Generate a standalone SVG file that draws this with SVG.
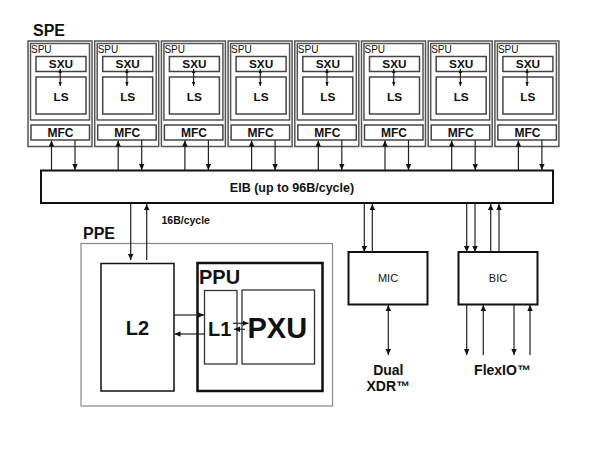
<svg xmlns="http://www.w3.org/2000/svg" width="600" height="449" viewBox="0 0 600 449">
<defs>
<style>
.t{font-family:"Liberation Sans",Arial,sans-serif;fill:#111}
.b{font-weight:bold}
.mid{text-anchor:middle}
.speo{fill:none;stroke:#555;stroke-width:1.5}
.spu{fill:#fff;stroke:#555;stroke-width:1.5}
.sub{fill:#fff;stroke:#444;stroke-width:1.5}
.box{fill:#fff;stroke:#111;stroke-width:2}
.ln{fill:none;stroke:#222;stroke-width:1.2}
.a{marker-end:url(#ah)}
.aa{marker-start:url(#ah);marker-end:url(#ah)}
.sa{marker-start:url(#sh);marker-end:url(#sh)}
</style>
<marker id="ah" viewBox="0 0 6 6" refX="6" refY="3" markerWidth="6" markerHeight="6" markerUnits="userSpaceOnUse" orient="auto-start-reverse"><path d="M0,0.3 L6,3 L0,5.7 z" fill="#111"/></marker>
<marker id="sh" viewBox="0 0 4 4" refX="4" refY="2" markerWidth="4" markerHeight="4" markerUnits="userSpaceOnUse" orient="auto-start-reverse"><path d="M0,0.3 L4,2 L0,3.7 z" fill="#111"/></marker>
<g id="speTpl">
<rect class="speo" x="28" y="41" width="64" height="105.5"/>
<rect class="spu" x="30.5" y="43.5" width="59" height="76.5"/>
<text class="t" x="31" y="52.5" font-size="10">SPU</text>
<rect class="sub" x="36" y="56.5" width="50" height="15"/>
<text class="t b mid" x="61" y="68.3" font-size="11.8">SXU</text>
<rect class="sub" x="36" y="77" width="50" height="37"/>
<text class="t b mid" x="61" y="101" font-size="11.8">LS</text>
<rect class="sub" x="31" y="125" width="58.5" height="15"/>
<text class="t b mid" x="60.5" y="137.3" font-size="12">MFC</text>
</g>
</defs>
<rect width="600" height="449" fill="#fff"/>

<text class="t b" x="33" y="35.5" font-size="16">SPE</text>
<g id="spe1"><use href="#speTpl"/></g>
<g id="spe2" transform="translate(66.7,0)"><use href="#speTpl"/></g>
<g id="spe3" transform="translate(133.4,0)"><use href="#speTpl"/></g>
<g id="spe4" transform="translate(200.1,0)"><use href="#speTpl"/></g>
<g id="spe5" transform="translate(266.8,0)"><use href="#speTpl"/></g>
<g id="spe6" transform="translate(333.5,0)"><use href="#speTpl"/></g>
<g id="spe7" transform="translate(400.2,0)"><use href="#speTpl"/></g>
<g id="spe8" transform="translate(466.9,0)"><use href="#speTpl"/></g>

<g id="eib">
<rect class="box" x="41" y="170.5" width="512" height="32.5"/>
<text class="t b mid" x="292" y="191.5" font-size="12.5">EIB (up to 96B/cycle)</text>
</g>

<g id="ppe">
<rect x="81" y="243.5" width="251.5" height="162.5" fill="none" stroke="#888" stroke-width="1.2"/>
<text class="t b" x="83" y="239" font-size="16">PPE</text>
</g>
<g id="l2">
<rect x="101" y="263.5" width="73" height="127.5" fill="#fff" stroke="#111" stroke-width="1.5"/>
<text class="t b mid" x="137.5" y="335" font-size="20">L2</text>
</g>
<g id="ppu">
<rect x="197.5" y="263" width="125" height="128" fill="#fff" stroke="#111" stroke-width="2.5"/>
<text class="t b" x="199" y="283.5" font-size="20">PPU</text>
</g>
<g id="l1">
<rect x="204.5" y="290.5" width="32.5" height="73.5" fill="none" stroke="#333" stroke-width="1.3"/>
<text class="t b" x="208" y="336" font-size="20">L1</text>
</g>
<g id="pxu">
<rect x="242" y="290" width="72.5" height="74" fill="none" stroke="#333" stroke-width="1.3"/>
<text class="t b" x="247.5" y="337.5" font-size="29">PXU</text>
</g>
<text class="t b" x="161.5" y="224" font-size="10.5">16B/cycle</text>

<g id="mic">
<rect class="box" x="348.5" y="252" width="79" height="52.5"/>
<text class="t mid" x="388" y="282" font-size="11">MIC</text>
</g>
<g id="bic">
<rect class="box" x="458.5" y="252" width="79" height="52.5"/>
<text class="t mid" x="498" y="282" font-size="11">BIC</text>
</g>
<g id="dualxdr">
<text class="t b mid" x="388.3" y="375" font-size="14">Dual</text>
<text class="t b mid" x="388.3" y="390.7" font-size="14">XDR™</text>
</g>
<g id="flexio">
<text class="t b mid" x="502.5" y="375" font-size="14">FlexIO™</text>
</g>

<g id="connectors">
<line class="ln sa" x1="60.2" y1="69" x2="60.2" y2="86"/>
<line class="ln sa" x1="126.9" y1="69" x2="126.9" y2="86"/>
<line class="ln sa" x1="193.6" y1="69" x2="193.6" y2="86"/>
<line class="ln sa" x1="260.3" y1="69" x2="260.3" y2="86"/>
<line class="ln sa" x1="327" y1="69" x2="327" y2="86"/>
<line class="ln sa" x1="393.7" y1="69" x2="393.7" y2="86"/>
<line class="ln sa" x1="460.4" y1="69" x2="460.4" y2="86"/>
<line class="ln sa" x1="527.1" y1="69" x2="527.1" y2="86"/>

<line class="ln a" x1="51.5" y1="170" x2="51.5" y2="140.5"/>
<line class="ln a" x1="75" y1="140" x2="75" y2="170"/>
<line class="ln a" x1="118.2" y1="170" x2="118.2" y2="140.5"/>
<line class="ln a" x1="141.7" y1="140" x2="141.7" y2="170"/>
<line class="ln a" x1="184.9" y1="170" x2="184.9" y2="140.5"/>
<line class="ln a" x1="208.4" y1="140" x2="208.4" y2="170"/>
<line class="ln a" x1="251.6" y1="170" x2="251.6" y2="140.5"/>
<line class="ln a" x1="275.1" y1="140" x2="275.1" y2="170"/>
<line class="ln a" x1="318.3" y1="170" x2="318.3" y2="140.5"/>
<line class="ln a" x1="341.8" y1="140" x2="341.8" y2="170"/>
<line class="ln a" x1="385" y1="170" x2="385" y2="140.5"/>
<line class="ln a" x1="408.5" y1="140" x2="408.5" y2="170"/>
<line class="ln a" x1="451.7" y1="170" x2="451.7" y2="140.5"/>
<line class="ln a" x1="475.2" y1="140" x2="475.2" y2="170"/>
<line class="ln a" x1="518.4" y1="170" x2="518.4" y2="140.5"/>
<line class="ln a" x1="541.9" y1="140" x2="541.9" y2="170"/>

<line class="ln a" x1="130.7" y1="204" x2="130.7" y2="260"/>
<line class="ln a" x1="146.7" y1="260" x2="146.7" y2="204"/>

<line class="ln a" x1="174" y1="315" x2="204" y2="315"/>
<line class="ln a" x1="204.5" y1="334" x2="174.5" y2="334"/>
<line class="ln a" x1="233" y1="323.3" x2="248.5" y2="323.3"/>
<line class="ln a" x1="245" y1="329.3" x2="234" y2="329.3"/>

<line class="ln a" x1="364.3" y1="204" x2="364.3" y2="252"/>
<line class="ln a" x1="372.3" y1="252" x2="372.3" y2="204"/>
<line class="ln aa" x1="388.3" y1="305" x2="388.3" y2="355"/>

<line class="ln a" x1="466.7" y1="204" x2="466.7" y2="252"/>
<line class="ln a" x1="475" y1="204" x2="475" y2="252"/>
<line class="ln a" x1="490.7" y1="252" x2="490.7" y2="204"/>
<line class="ln a" x1="499" y1="252" x2="499" y2="204"/>

<line class="ln a" x1="466.7" y1="305" x2="466.7" y2="355"/>
<line class="ln a" x1="483.3" y1="355" x2="483.3" y2="305"/>
<line class="ln a" x1="514" y1="305" x2="514" y2="355"/>
<line class="ln a" x1="530" y1="355" x2="530" y2="305"/>
</g>
</svg>
